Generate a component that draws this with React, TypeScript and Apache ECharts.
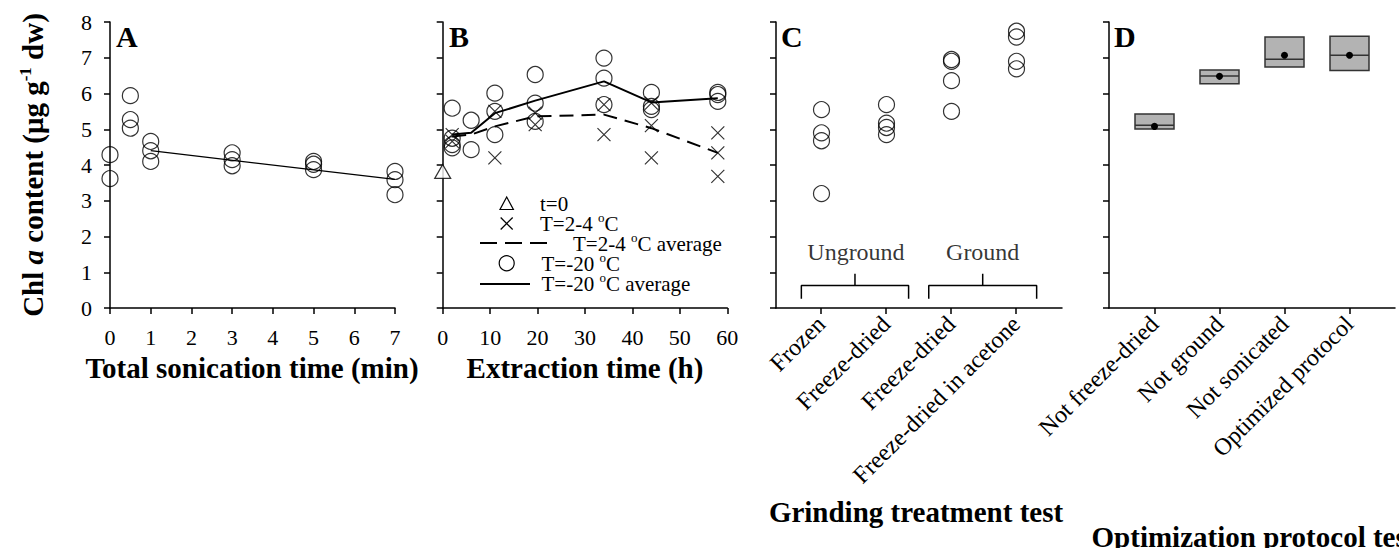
import React, { useEffect, useRef } from "react";
import * as echarts from "echarts";

const FONT = "'Liberation Serif', 'Times New Roman', Times, serif";

// ---------- Panel A: sonication time ----------
const sonicationTicks = [0, 1, 2, 3, 4, 5, 6, 7];
const sonicationPoints: [number, number][] = [
  [0, 4.29], [0, 3.62],
  [0.5, 5.94], [0.5, 5.27], [0.5, 5.03],
  [1, 4.66], [1, 4.4], [1, 4.1],
  [3, 4.34], [3, 4.15], [3, 3.98],
  [5, 4.1], [5, 4.02], [5, 3.87],
  [7, 3.82], [7, 3.59], [7, 3.17],
];
const sonicationFit: [number, number][] = [[1, 4.4], [7, 3.6]];

// ---------- Panel B: extraction time ----------
const extractionTimes = [2, 6, 11, 19.5, 34, 44, 58];
const coldAverage = [4.8, 4.85, 5.08, 5.36, 5.41, 5.03, 4.34];
const frozenAverage = [4.85, 4.9, 5.45, 5.8, 6.34, 5.75, 5.87];
const coldPoints: [number, number][] = [
  [2, 4.85], [2, 4.66],
  [11, 5.5], [11, 4.2],
  [19.5, 5.45], [19.5, 5.13],
  [34, 5.69], [34, 4.85],
  [44, 5.73], [44, 5.1], [44, 4.2],
  [58, 4.9], [58, 4.34], [58, 3.68],
];
const frozenPoints: [number, number][] = [
  [2, 5.59], [2, 4.75], [2, 4.57], [2, 4.48],
  [6, 5.25], [6, 4.43],
  [11, 6.01], [11, 5.5], [11, 4.85],
  [19.5, 6.53], [19.5, 5.73], [19.5, 5.22],
  [34, 6.99], [34, 6.43], [34, 5.69],
  [44, 6.03], [44, 5.64], [44, 5.55],
  [58, 6.03], [58, 5.97], [58, 5.78],
];
const initialPoint: [number, number][] = [[0, 3.82]];

// ---------- Panel C: grinding treatment ----------
const grindCategories = ["Frozen", "Freeze-dried", "Freeze-dried", "Freeze-dried in acetone"];
const grindFrozen = [5.55, 4.9, 4.68, 3.2];
const grindFreezeDried = [5.69, 5.17, 5.05, 4.85];
const groundFreezeDried = [6.95, 6.9, 6.36, 5.5];
const groundAcetone = [7.74, 7.58, 6.9, 6.69];
const grindGroups = ["Unground", "Ground"];

// ---------- Panel D: optimization protocol ----------
const protocolCategories = ["Not freeze-dried", "Not ground", "Not sonicated", "Optimized protocol"];
const boxLow = [5.01, 6.27, 6.74, 6.64];
const boxHigh = [5.43, 6.66, 7.58, 7.6];
const boxMedian = [5.11, 6.49, 6.96, 7.07];
const boxMean = [5.08, 6.48, 7.07, 7.07];

const yTicks = [0, 1, 2, 3, 4, 5, 6, 7, 8];

const axisLine = { show: true, onZero: false, lineStyle: { color: "#000", width: 1.5 } };
const axisTick = { show: true, length: 6, lineStyle: { color: "#000", width: 1.5 } };
const tickFont = { color: "#000", fontFamily: FONT, fontSize: 22 };

const circleItem = { color: "rgba(0,0,0,0)", borderColor: "#000", borderWidth: 1.2 };
const crossSymbol = "path://M0,0L10,10M10,0L0,10";

const TOP = 22;
const H = 286;

function yAxisFor(gridIndex: number, labels: boolean, show = true) {
  return {
    type: "value",
    gridIndex,
    show,
    min: yTicks[0],
    max: yTicks[yTicks.length - 1],
    interval: 1,
    axisLine,
    axisTick,
    splitLine: { show: false },
    axisLabel: { show: labels, margin: 18, ...tickFont },
  };
}

function hiddenValueX(gridIndex: number) {
  return {
    type: "value",
    gridIndex,
    min: -0.7,
    max: 3.7,
    axisLine,
    axisTick: { show: false },
    axisLabel: { show: false },
    splitLine: { show: false },
  };
}

function categoryLabelX(gridIndex: number, data: string[]) {
  return {
    type: "category",
    gridIndex,
    data,
    boundaryGap: true,
    axisLine: { show: false },
    axisTick: { show: true, alignWithLabel: true, length: 6, lineStyle: { color: "#000", width: 1.5 } },
    axisLabel: { rotate: 45, margin: 12, interval: 0, color: "#000", fontFamily: FONT, fontSize: 24 },
    splitLine: { show: false },
  };
}

const supRich = { s: { fontSize: 13, fontFamily: FONT, color: "#000", padding: [0, 0, 12, 0] } };

function legendText(x: number, y: number, text: string) {
  return {
    type: "text",
    x,
    y,
    style: {
      text,
      fontFamily: FONT,
      fontSize: 21,
      fill: "#000",
      align: "left",
      verticalAlign: "middle",
      rich: supRich,
    },
  };
}

function titleText(x: number, y: number, text: string, align = "center") {
  return {
    type: "text",
    x,
    y,
    style: { text, fontFamily: FONT, fontSize: 29, fontWeight: "bold", fill: "#000", align, verticalAlign: "middle" },
  };
}

function panelLetter(x: number, text: string) {
  return {
    type: "text",
    x,
    y: 36,
    style: { text, fontFamily: FONT, fontSize: 30, fontWeight: "bold", fill: "#000", align: "left", verticalAlign: "middle" },
  };
}

function buildOption(): any {
  const grids = [
    { left: 110, top: TOP, width: 285, height: H },
    { left: 442.7, top: TOP, width: 284.6, height: H },
    { left: 776, top: TOP, width: 286, height: H },
    { left: 1109, top: TOP, width: 286, height: H },
    { left: 788.5, top: TOP, width: 260, height: H },
    { left: 1121.8, top: TOP, width: 260, height: H },
  ];

  const xAxis = [
    {
      type: "value", gridIndex: 0, min: sonicationTicks[0], max: sonicationTicks[sonicationTicks.length - 1], interval: 1,
      axisLine, axisTick, splitLine: { show: false }, axisLabel: { margin: 18, ...tickFont },
    },
    {
      type: "value", gridIndex: 1, min: 0, max: 60, interval: 10,
      axisLine, axisTick, splitLine: { show: false }, axisLabel: { margin: 18, ...tickFont },
    },
    hiddenValueX(2),
    hiddenValueX(3),
    categoryLabelX(4, grindCategories),
    categoryLabelX(5, protocolCategories),
  ];

  const yAxis = [
    yAxisFor(0, true),
    yAxisFor(1, false),
    yAxisFor(2, false),
    yAxisFor(3, false),
    yAxisFor(4, false, false),
    yAxisFor(5, false, false),
  ];

  const cScatter = (vals: number[], idx: number) => ({
    type: "scatter",
    xAxisIndex: 2,
    yAxisIndex: 2,
    symbol: "circle",
    symbolSize: 16,
    itemStyle: circleItem,
    data: vals.map((v) => [idx, v]),
  });

  const bracket = (from: number, to: number) => [
    {
      type: "line", xAxisIndex: 2, yAxisIndex: 2, symbol: "none", silent: true,
      lineStyle: { color: "#000", width: 1.5 },
      data: [[from, 0.26], [from, 0.63], [to, 0.63], [to, 0.26]],
    },
    {
      type: "line", xAxisIndex: 2, yAxisIndex: 2, symbol: "none", silent: true,
      lineStyle: { color: "#000", width: 1.5 },
      data: [[(from + to) / 2, 0.63], [(from + to) / 2, 0.96]],
    },
  ];

  const series: any[] = [
    // Panel A
    {
      type: "line", xAxisIndex: 0, yAxisIndex: 0, symbol: "none",
      lineStyle: { color: "#000", width: 1.2 }, data: sonicationFit,
    },
    {
      type: "scatter", xAxisIndex: 0, yAxisIndex: 0, symbol: "circle", symbolSize: 16,
      itemStyle: circleItem, data: sonicationPoints,
    },
    // Panel B
    {
      type: "scatter", xAxisIndex: 1, yAxisIndex: 1, symbol: "circle", symbolSize: 16,
      itemStyle: circleItem, data: frozenPoints,
    },
    {
      type: "scatter", xAxisIndex: 1, yAxisIndex: 1, symbol: crossSymbol, symbolSize: 13,
      itemStyle: { color: "rgba(0,0,0,0)", borderColor: "#000", borderWidth: 1.2 }, data: coldPoints,
    },
    {
      type: "scatter", xAxisIndex: 1, yAxisIndex: 1, symbol: "triangle", symbolSize: [16, 14],
      itemStyle: { color: "#fff", borderColor: "#000", borderWidth: 1.2 }, data: initialPoint, clip: false,
    },
    {
      type: "line", xAxisIndex: 1, yAxisIndex: 1, symbol: "none",
      lineStyle: { color: "#000", width: 2, type: [14, 8] },
      data: extractionTimes.map((t, i) => [t, coldAverage[i]]),
    },
    {
      type: "line", xAxisIndex: 1, yAxisIndex: 1, symbol: "none",
      lineStyle: { color: "#000", width: 2 },
      data: extractionTimes.map((t, i) => [t, frozenAverage[i]]),
    },
    // Panel C
    cScatter(grindFrozen, 0),
    cScatter(grindFreezeDried, 1),
    cScatter(groundFreezeDried, 2),
    cScatter(groundAcetone, 3),
    ...bracket(-0.31, 1.34),
    ...bracket(1.65, 3.31),
    {
      type: "scatter", xAxisIndex: 2, yAxisIndex: 2, symbolSize: 1, silent: true,
      itemStyle: { color: "rgba(0,0,0,0)" },
      label: { show: true, position: "inside", formatter: "{b}", color: "#000", fontFamily: FONT, fontSize: 24 },
      data: [
        { name: grindGroups[0], value: [0.53, 1.57] },
        { name: grindGroups[1], value: [2.48, 1.57] },
      ],
    },
    // Panel D
    {
      type: "custom", xAxisIndex: 3, yAxisIndex: 3,
      encode: { x: 0, y: [1, 2] },
      data: protocolCategories.map((_, i) => [i, boxLow[i], boxHigh[i], boxMedian[i], boxMean[i]]),
      renderItem: (params: any, api: any) => {
        const x = api.value(0);
        const pLo = api.coord([x, api.value(1)]);
        const pHi = api.coord([x, api.value(2)]);
        const pMed = api.coord([x, api.value(3)]);
        const pMean = api.coord([x, api.value(4)]);
        const w = api.size([0.6, 0])[0];
        return {
          type: "group",
          children: [
            {
              type: "rect",
              shape: { x: pLo[0] - w / 2, y: pHi[1], width: w, height: pLo[1] - pHi[1] },
              style: { fill: "#b3b3b3", stroke: "#333", lineWidth: 1.5 },
            },
            {
              type: "line",
              shape: { x1: pLo[0] - w / 2, y1: pMed[1], x2: pLo[0] + w / 2, y2: pMed[1] },
              style: { stroke: "#333", lineWidth: 1.5 },
            },
            {
              type: "circle",
              shape: { cx: pMean[0], cy: pMean[1], r: 3.5 },
              style: { fill: "#000" },
            },
          ],
        };
      },
    },
  ];

  const graphic: any[] = [
    // y-axis title
    {
      type: "text",
      x: 33,
      y: 165,
      rotation: Math.PI / 2,
      style: {
        text: "Chl {it|a} content (μg g{sup|-1} dw)",
        fontFamily: FONT,
        fontSize: 29,
        fontWeight: "bold",
        fill: "#000",
        align: "center",
        verticalAlign: "middle",
        rich: {
          it: { fontFamily: FONT, fontSize: 29, fontWeight: "bold", fontStyle: "italic", color: "#000" },
          sup: { fontFamily: FONT, fontSize: 17, fontWeight: "bold", color: "#000", padding: [0, 0, 16, 0] },
        },
      },
    },
    titleText(252, 368, "Total sonication time (min)"),
    titleText(585, 368, "Extraction time (h)"),
    titleText(916, 512, "Grinding treatment test"),
    titleText(1254, 537, "Optimization protocol test"),
    panelLetter(116, "A"),
    panelLetter(449, "B"),
    panelLetter(781, "C"),
    panelLetter(1114, "D"),
    // legend (panel B)
    {
      type: "polygon",
      shape: { points: [[500, 209.5], [513.4, 209.5], [506.7, 197]] },
      style: { fill: "#fff", stroke: "#000", lineWidth: 1.2 },
    },
    { type: "line", shape: { x1: 500.7, y1: 217.5, x2: 512.7, y2: 229.5 }, style: { stroke: "#000", lineWidth: 1.2 } },
    { type: "line", shape: { x1: 512.7, y1: 217.5, x2: 500.7, y2: 229.5 }, style: { stroke: "#000", lineWidth: 1.2 } },
    { type: "line", shape: { x1: 480, y1: 243, x2: 548, y2: 243 }, style: { stroke: "#000", lineWidth: 2, lineDash: [17, 8] } },
    { type: "circle", shape: { cx: 506.7, cy: 263.3, r: 7.5 }, style: { fill: "none", stroke: "#000", lineWidth: 1.2 } },
    { type: "line", shape: { x1: 480, y1: 284, x2: 530, y2: 284 }, style: { stroke: "#000", lineWidth: 2 } },
    legendText(540, 203.5, "t=0"),
    legendText(540, 223.5, "T=2-4 {s|o}C"),
    legendText(573, 243.5, "T=2-4 {s|o}C average"),
    legendText(541.5, 263.5, "T=-20 {s|o}C"),
    legendText(541.5, 283.5, "T=-20 {s|o}C average"),
  ];

  return {
    animation: false,
    backgroundColor: "#fff",
    textStyle: { fontFamily: FONT },
    grid: grids,
    xAxis,
    yAxis,
    series,
    graphic,
  };
}

export default function App() {
  const ref = useRef<HTMLDivElement>(null);
  useEffect(() => {
    document.body.style.margin = "0";
    const chart = echarts.init(ref.current!, null, { renderer: "svg" });
    chart.setOption(buildOption());
    return () => chart.dispose();
  }, []);
  return <div ref={ref} style={{ width: 1399, height: 548 }} />;
}
